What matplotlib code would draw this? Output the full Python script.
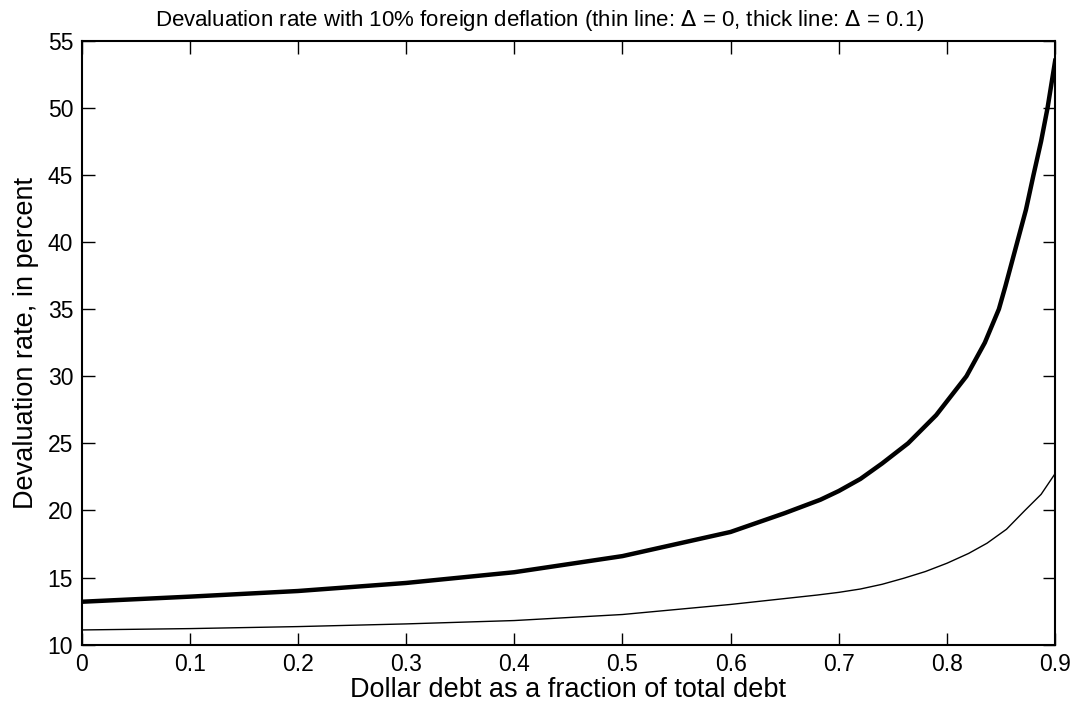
import numpy as np
import matplotlib
matplotlib.use("Agg")
from matplotlib import pyplot

pyplot.rcParams['font.family'] = ['Liberation Sans', 'DejaVu Sans']

# Values
share_thin = [0.0, 0.1, 0.2, 0.3, 0.4, 0.5, 0.6, 0.68, 0.7, 0.72, 0.74,
              0.76, 0.78, 0.8, 0.82, 0.837, 0.855, 0.872, 0.887, 0.9]
rate_thin = [11.1, 11.2, 11.35, 11.55, 11.8, 12.25, 13.0, 13.7, 13.9, 14.15,
             14.5, 14.95, 15.45, 16.07, 16.8, 17.56, 18.6, 20.0, 21.2, 22.75]
share_thick = [0.0, 0.1, 0.2, 0.3, 0.4, 0.5, 0.6, 0.65, 0.683, 0.7, 0.72,
               0.74, 0.764, 0.79, 0.818, 0.835, 0.848, 0.854, 0.865, 0.873,
               0.88, 0.887, 0.893, 0.9]
rate_thick = [13.2, 13.58, 14.0, 14.6, 15.4, 16.6, 18.4, 19.8, 20.8, 21.45,
              22.35, 23.5, 25.0, 27.1, 30.0, 32.5, 35.0, 36.7, 40.0, 42.4,
              45.0, 47.5, 50.0, 53.5]

xticks = np.arange(0, 0.91, 0.1)
yticks = np.arange(10, 56, 5)

fig = pyplot.figure(figsize=(10.8, 7.12), dpi=100)
ax = fig.add_axes([0.0755, 0.0945, 0.9015, 0.8485])

ax.plot(share_thin, rate_thin, color="black", linewidth=1.0)
ax.plot(share_thick, rate_thick, color="black", linewidth=3.2)

ax.set_xlim(0, 0.9)
ax.set_ylim(10, 55)
ax.set_xticks(xticks)
ax.set_xticklabels(["0"] + ["%.1f" % v for v in xticks[1:]])
ax.set_yticks(yticks)
ax.tick_params(direction="in", length=9, width=1.0, top=True, right=True,
               labelsize=16.5, pad=6)
for s in ax.spines.values():
    s.set_linewidth(1.5)

ax.set_xlabel("Dollar debt as a fraction of total debt", fontsize=19.5,
              labelpad=1)
ax.set_ylabel("Devaluation rate, in percent", fontsize=19.5, labelpad=6)
fig.text(0.5, 0.963,
         "Devaluation rate with 10% foreign deflation "
         "(thin line: $\\Delta$ = 0, thick line: $\\Delta$ = 0.1)",
         fontsize=16, ha="center", va="baseline")

pyplot.savefig("out.png", dpi=100)
